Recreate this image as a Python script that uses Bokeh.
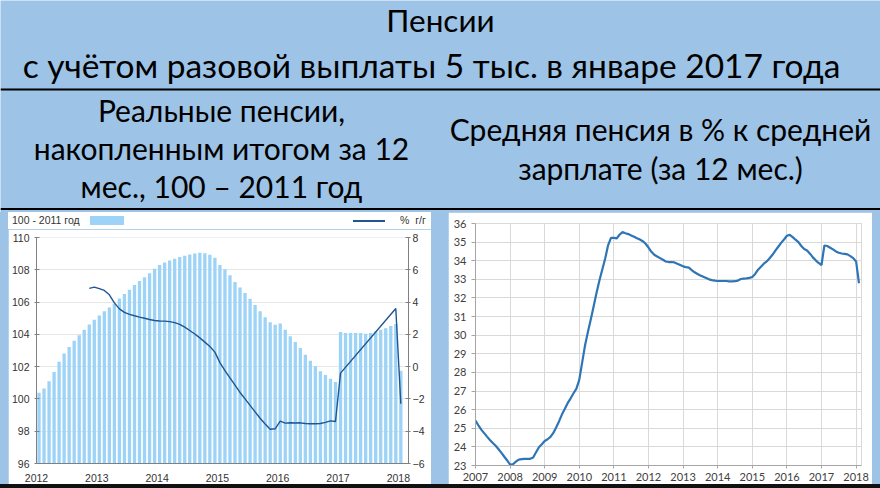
from bokeh.plotting import figure
from bokeh.layouts import column, row
from bokeh.models import (Range1d, LinearAxis, FixedTicker, Label, Span,
                          Spacer, ColumnDataSource, Div)
from bokeh.embed import file_html
from bokeh.resources import INLINE

# ---------------- data ----------------
title_lines = ["Пенсии", "с учётом разовой выплаты 5 тыс. в январе 2017 года"]
left_subtitle = ["Реальные пенсии,", "накопленным итогом за 12", "мес., 100 – 2011 год"]
right_subtitle = ["Средняя пенсия в % к средней", "зарплате (за 12 мес.)"]

legend_bar_label = "100 - 2011 год"
legend_line_label = "%&nbsp; г/г"

# real pensions, 12-month cumulative, 100 = 2011; monthly Jan 2012 .. Jan 2018
pension_start_year = 2012
pension_index = [
    100.38, 100.64, 101.09, 101.67, 102.30, 102.81, 103.21, 103.61, 103.94, 104.28, 104.61, 104.91,
    105.17, 105.43, 105.67, 105.90, 106.22, 106.50, 106.76, 107.05, 107.31, 107.53, 107.79, 108.06,
    108.30, 108.45, 108.57, 108.68, 108.79, 108.87, 108.95, 109.01, 109.05, 109.03, 108.93, 108.74,
    108.30, 108.03, 107.66, 107.25, 106.90, 106.56, 106.20, 105.82, 105.43, 105.06, 104.75, 104.60,
    104.68, 104.28, 103.88, 103.53, 103.15, 102.73, 102.36, 102.02, 101.71, 101.49, 101.25, 101.05,
    104.15, 104.08, 104.08, 104.08, 104.08, 104.04, 104.08, 104.18, 104.28, 104.38, 104.52, 104.64,
    101.74,
]
# % y/y (right axis), same months; None = no point
pension_yoy = [
    None, None, None, None, None, None, None, None, None, None, 4.85, 4.93,
    4.83, 4.72, 4.45, 3.95, 3.58, 3.36, 3.24, 3.15, 3.07, 3.00, 2.92, 2.86,
    2.83, 2.82, 2.79, 2.73, 2.62, 2.45, 2.24, 2.02, 1.78, 1.52, 1.25, 0.90,
    0.25, -0.25, -0.70, -1.15, -1.60, -2.00, -2.40, -2.80, -3.20, -3.55, -3.88, -3.85,
    -3.38, -3.50, -3.48, -3.49, -3.48, -3.52, -3.54, -3.54, -3.52, -3.45, -3.36, -3.40,
    -0.40, None, None, None, None, None, None, None, None, None, None, 3.60,
    -2.30,
]
left_year_ticks = [2012, 2013, 2014, 2015, 2016, 2017, 2018]
index_ticks = [96, 98, 100, 102, 104, 106, 108, 110]
yoy_ticks = [-6, -4, -2, 0, 2, 4, 6, 8]

# average pension in % of average wage (12 months); monthly from Jan 2007
ratio_start_year = 2007
pension_wage_ratio = [
    25.41, 25.16, 24.93, 24.74, 24.55, 24.37, 24.21, 24.06, 23.87, 23.68, 23.47, 23.27,
    23.04, 23.07, 23.21, 23.32, 23.34, 23.36, 23.36, 23.36, 23.43, 23.71, 23.98, 24.14,
    24.32, 24.41, 24.54, 24.75, 25.05, 25.38, 25.75, 26.05, 26.36, 26.61, 26.88, 27.13,
    27.61, 28.54, 29.46, 30.18, 30.86, 31.57, 32.29, 32.95, 33.54, 34.13, 34.84, 35.23,
    35.23, 35.20, 35.41, 35.54, 35.48, 35.43, 35.36, 35.29, 35.21, 35.14, 35.05, 34.91,
    34.71, 34.48, 34.32, 34.23, 34.14, 34.05, 33.96, 33.93, 33.93, 33.91, 33.84, 33.77,
    33.70, 33.66, 33.63, 33.50, 33.38, 33.29, 33.21, 33.14, 33.07, 33.00, 32.96, 32.93,
    32.91, 32.91, 32.91, 32.91, 32.89, 32.89, 32.90, 32.93, 33.02, 33.04, 33.05, 33.08,
    33.13, 33.29, 33.52, 33.68, 33.84, 33.96, 34.13, 34.32, 34.54, 34.75, 34.96, 35.14,
    35.34, 35.39, 35.27, 35.13, 35.00, 34.79, 34.63, 34.55, 34.38, 34.18, 34.02, 33.88,
    33.77, 34.82, 34.79, 34.70, 34.61, 34.50, 34.43, 34.39, 34.37, 34.34, 34.25, 34.14,
    33.96, 32.79,
]
right_year_ticks = list(range(2007, 2019))
ratio_ticks = list(range(23, 37))

# ---------------- styles ----------------
BLUE_BG = "#9DC3E6"
BAR_COLOR = "#9DD3F7"
YOY_COLOR = "#1F5590"
RATIO_COLOR = "#2E75B6"
HEAD_FONT = "Lato"
LEFT_FONT = "Liberation Sans"
RIGHT_FONT = "Lato"
BG = {"background-color": BLUE_BG}

# ---------------- header (880 x 212) ----------------
head = figure(width=880, height=212, x_range=Range1d(0, 880), y_range=Range1d(212, 0),
              x_axis_type=None, y_axis_type=None, toolbar_location=None,
              output_backend="svg", min_border=0, outline_line_color=None,
              background_fill_color=BLUE_BG, border_fill_color=BLUE_BG)
head.grid.visible = False


def head_label(x, y, txt, size):
    head.add_layout(Label(x=x, y=y, text=txt, text_align="center", text_baseline="middle",
                          text_font=HEAD_FONT, text_font_size=size, text_color="black"))


head_label(440, 19, title_lines[0], "31.5px")
head_label(431, 64, title_lines[1], "33.5px")
for y, txt in zip([109, 147, 185], left_subtitle):
    head_label(221, y, txt, "30px")
for y, txt in zip([128, 167], right_subtitle):
    head_label(660, y, txt, "30px")
head.add_layout(Span(location=89, dimension="width", line_color="black", line_width=2))
head.add_layout(Span(location=208.5, dimension="width", line_color="black", line_width=2))

# ---------------- left chart ----------------
n = len(pension_index)
months_l = [pension_start_year + (i + 0.5) / 12 for i in range(n)]
bars = ColumnDataSource(dict(x=months_l, top=pension_index))
yoy_x = [x for x, v in zip(months_l, pension_yoy) if v is not None]
yoy_y = [v for v in pension_yoy if v is not None]

# legend strip above the left chart (page y 212..229, x 8..431)
span_css = "position:absolute;display:block;"
legend_html = (
    '<div style="position:relative;width:423px;height:17px;background:white;'
    f'font-family:\'{LEFT_FONT}\';font-size:10.5px;line-height:12px;color:#333333;">'
    f'<span style="{span_css}left:4px;top:2px;white-space:nowrap;">{legend_bar_label}</span>'
    f'<span style="{span_css}left:82px;top:4px;width:34px;height:9px;background:{BAR_COLOR};"></span>'
    f'<span style="{span_css}left:345px;top:8px;width:32px;height:1.5px;background:{YOY_COLOR};"></span>'
    f'<span style="{span_css}left:392px;top:2px;white-space:nowrap;">{legend_line_label}</span>'
    '</div>'
)
leg = Div(text=legend_html, width=423, height=17,
          styles={"background-color": "white", "margin": "0", "padding": "0"})

left = figure(width=423, height=255, x_range=Range1d(2012, 2018.169), y_range=Range1d(96, 110),
              toolbar_location=None, output_backend="svg",
              min_border_left=28, min_border_right=23, min_border_top=8, min_border_bottom=17,
              background_fill_color="white", border_fill_color="white", outline_line_color=None)
left.extra_y_ranges = {"yoy": Range1d(-6, 8)}
left.vbar(x="x", top="top", bottom=96, width=0.66 / 12, source=bars,
          fill_color=BAR_COLOR, line_color=None)
left.line(yoy_x, yoy_y, y_range_name="yoy", line_color=YOY_COLOR, line_width=1.4)

left.xgrid.visible = False
left.ygrid.grid_line_color = "#e6e6e6"
left.yaxis.ticker = FixedTicker(ticks=index_ticks)
left.xaxis.ticker = FixedTicker(ticks=left_year_ticks)
ryax = LinearAxis(y_range_name="yoy", ticker=FixedTicker(ticks=yoy_ticks))
left.add_layout(ryax, "right")
for ax in [left.yaxis[0], ryax]:
    ax.axis_line_color = "#808080"
    ax.major_tick_line_color = "#808080"
    ax.major_tick_in = 3
    ax.major_tick_out = 2
    ax.minor_tick_line_color = None
    ax.major_label_text_font = LEFT_FONT
    ax.major_label_text_font_size = "10.5px"
    ax.major_label_text_color = "#333333"
left.yaxis[0].major_label_standoff = 5
ryax.major_label_standoff = 2
xa = left.xaxis[0]
xa.axis_line_color = "#808080"
xa.major_tick_line_color = None
xa.minor_tick_line_color = None
xa.major_label_standoff = 4
xa.major_label_text_font = LEFT_FONT
xa.major_label_text_font_size = "10.5px"
xa.major_label_text_color = "#333333"

left_block = column(leg, left, spacing=0)

# ---------------- right chart ----------------
months_r = [ratio_start_year + m / 12 for m in range(len(pension_wage_ratio))]
right = figure(width=424, height=272, x_range=Range1d(2007, 2018.156), y_range=Range1d(23, 36),
               toolbar_location=None, output_backend="svg",
               min_border_left=27, min_border_right=11, min_border_top=11, min_border_bottom=19,
               background_fill_color="white", border_fill_color="white",
               outline_line_color="#d9d9d9")
right.line(months_r, pension_wage_ratio, line_color=RATIO_COLOR, line_width=2.2)
right.xaxis.ticker = FixedTicker(ticks=right_year_ticks)
right.yaxis.ticker = FixedTicker(ticks=ratio_ticks)
right.grid.grid_line_color = "#d9d9d9"
for ax in [right.xaxis[0], right.yaxis[0]]:
    ax.axis_line_color = "#a6a6a6"
    ax.major_tick_line_color = "#a6a6a6"
    ax.minor_tick_line_color = None
    ax.major_tick_in = 0
    ax.major_label_text_font = RIGHT_FONT
    ax.major_label_text_font_size = "11px"
    ax.major_label_text_color = "#404040"
right.yaxis[0].major_tick_out = 4
right.yaxis[0].major_label_standoff = 5
right.xaxis[0].major_tick_out = 3
right.xaxis[0].major_label_standoff = 4

charts = row(Spacer(width=8, height=272, styles=BG), left_block,
             Spacer(width=17, height=272, styles=BG), right,
             Spacer(width=8, height=272, styles=BG), spacing=0, styles=BG)
bottom_rule = Spacer(width=880, height=4, styles={"background-color": "#111111"})
layout = column(head, charts, bottom_rule, spacing=0)

open("out.html", "w").write(file_html(layout, INLINE))
